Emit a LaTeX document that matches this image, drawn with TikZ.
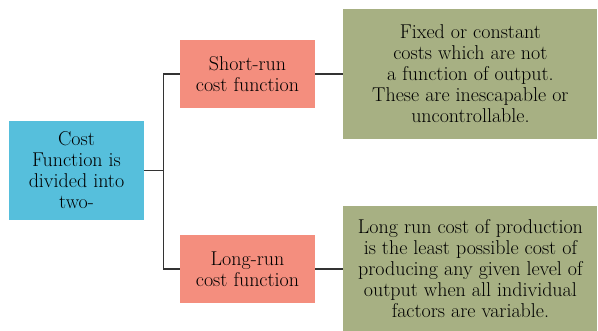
\documentclass[tikz,border=0pt]{standalone}
\usetikzlibrary{positioning}
\definecolor{costBlue}{HTML}{56BFDC}
\definecolor{costSalmon}{HTML}{F48E7E}
\definecolor{costOlive}{HTML}{A7B083}
\tikzstyle{basebox} =[align=center, inner sep=0pt, font=\fontsize{20}{21}\selectfont]
\tikzstyle{runbox} =[basebox, fill=costSalmon, minimum width=135pt, minimum height=68pt]
\tikzstyle{notebox} =[basebox, fill=costOlive, minimum width=254pt]
\tikzstyle{link} =[line width=1.3pt, draw=black!80]

\begin{document}
\begin{tikzpicture}[x=1pt, y=1pt]
\useasboundingbox (0,0) rectangle (598,-331);

\node (cost) [basebox, fill=costBlue, minimum width=135pt, minimum height=99pt] at (76.5,-170.5) {Cost\\Function is\\divided into\\two-};

\node (srun) [runbox] at (247.5,-74) {Short-run\\cost function};
\node (lrun) [runbox] at (247.5,-269) {Long-run\\cost function};

\node (sNote) [notebox, minimum height=130pt, right=28pt of srun] {Fixed or constant\\costs which are not\\a function of output.\\These are inescapable or\\uncontrollable.};
\node (lNote) [notebox, minimum height=126pt, right=28pt of lrun] {Long run cost of production\\is the least possible cost of\\producing any given level of\\output when all individual\\factors are variable.};

\draw[link] (cost.east) -- ++(19,0) |- (srun.west);
\draw[link] (cost.east) -- ++(19,0) |- (lrun.west);

\draw[link] (srun) -- (sNote);
\draw[link] (lrun) -- (lNote);
\end{tikzpicture}
\end{document}
